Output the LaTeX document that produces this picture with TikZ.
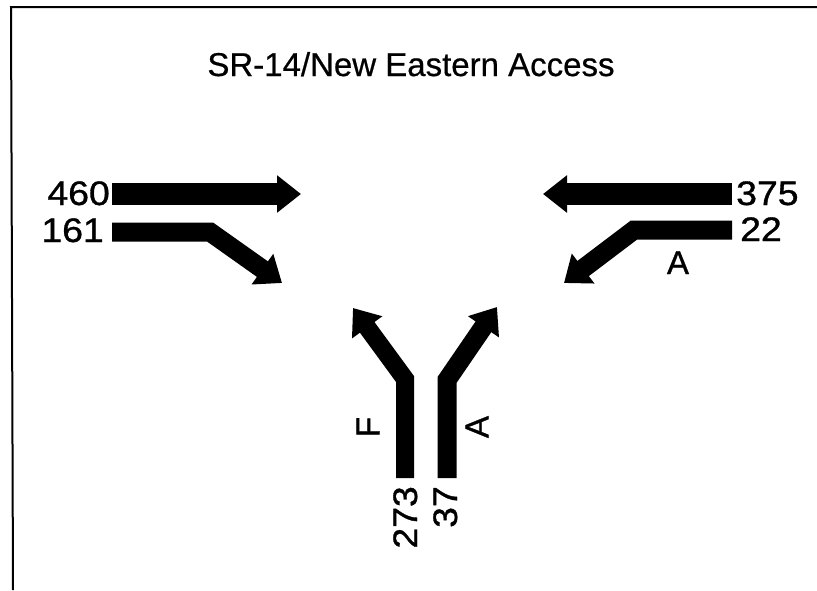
\documentclass[tikz,border=0pt]{standalone}
\usepackage{fontspec}
\setmainfont{Liberation Sans}
\newfontfamily\numfont[FakeStretch=1.1,FakeBold=1]{Liberation Sans}
\newfontfamily\lblfont[FakeBold=1]{Liberation Sans}
\newfontfamily\ttlfont[FakeBold=0.6]{Liberation Sans}
\usetikzlibrary{arrows.meta}
\begin{document}
\begin{tikzpicture}[x=1pt,y=-1pt,
  flow/.style={line width=#1, -{Triangle[length=24pt,width=36pt]}},
  flow/.default=21pt,
  num/.style={inner sep=0pt, font=\numfont\fontsize{34}{40}\selectfont},
  lbl/.style={inner sep=0pt, font=\lblfont\fontsize{33}{40}\selectfont},
  ttl/.style={inner sep=0pt, font=\ttlfont\fontsize{33}{40}\selectfont},
  frame/.style={line width=2pt}]
\useasboundingbox (0,0) rectangle (817,590);
% frame
\coordinate (fr1) at (817,7);
\coordinate (fr2) at (11,7);
\coordinate (fr3) at (13,590);
\draw[frame] (fr1) -- (fr2) -- (fr3);
% title
\node[ttl, anchor=base] (title) at (411,76) {SR-14/New Eastern Access};
% west approach
\coordinate (w1s) at (112,194);
\coordinate (w1e) at (301,194);
\draw[flow=22pt] (w1s) -- (w1e);
\coordinate (w2s) at (112,232);
\coordinate (w2b) at (210,232);
\coordinate (w2e) at (282,283);
\draw[flow=19pt] (w2s) -- (w2b) -- (w2e);
\node[num, anchor=base east] (n460) at (110,205) {460};
\node[num, anchor=base east] (n161) at (104,242) {161};
% east approach
\coordinate (e1s) at (732,194);
\coordinate (e1e) at (543,194);
\draw[flow=22pt] (e1s) -- (e1e);
\coordinate (e2s) at (732,230);
\coordinate (e2b) at (634,230);
\coordinate (e2e) at (564,283);
\draw[flow=19pt] (e2s) -- (e2b) -- (e2e);
\node[num, anchor=base west] (n375) at (736,205) {375};
\node[num, anchor=base west] (n22) at (740,241) {22};
\node[lbl, anchor=base] (lA1) at (678,274) {A};
% south approach
\coordinate (s1s) at (405,478);
\coordinate (s1b) at (405,379);
\coordinate (s1e) at (353,308);
\draw[flow=18pt] (s1s) -- (s1b) -- (s1e);
\coordinate (s2s) at (447,478);
\coordinate (s2b) at (447,380);
\coordinate (s2e) at (497,307);
\draw[flow=19pt] (s2s) -- (s2b) -- (s2e);
\node[lbl, rotate=90] (lF) at (368,427) {F};
\node[lbl, rotate=90] (lA2) at (477,427) {A};
\node[num, rotate=90, anchor=base east] (n273) at (417,486) {273};
\node[num, rotate=90, anchor=base east] (n37) at (457,486) {37};
\end{tikzpicture}
\end{document}
